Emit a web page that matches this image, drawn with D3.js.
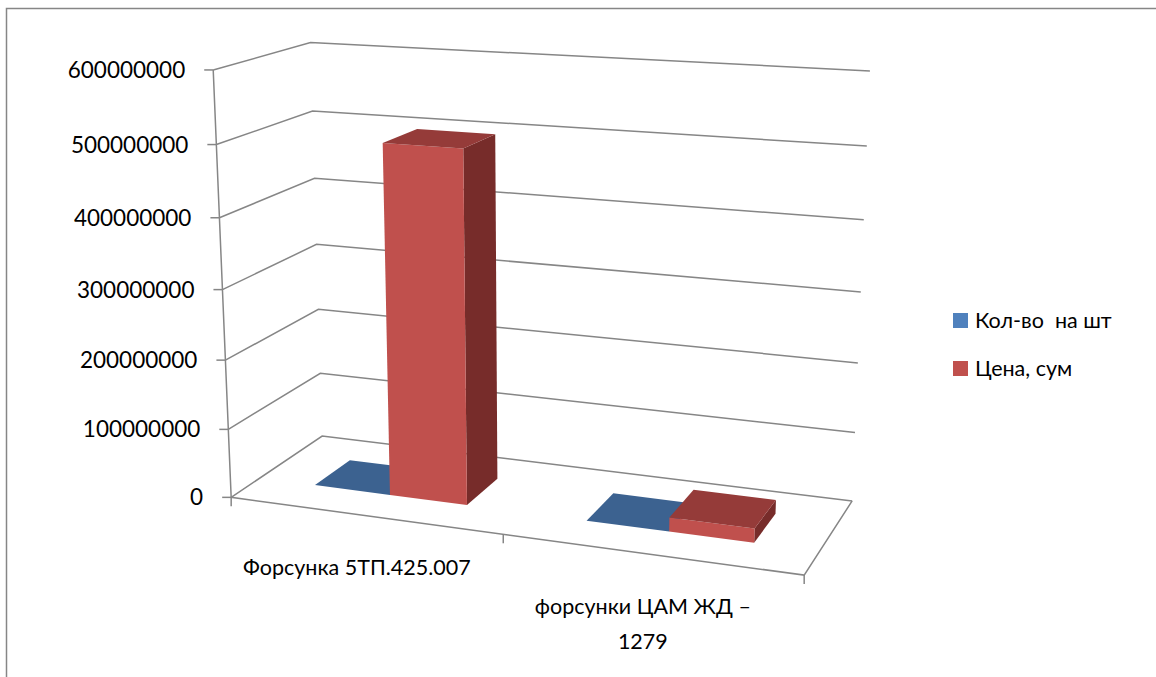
<!DOCTYPE html>
<html>
<head>
<meta charset="utf-8">
<script src="https://cdn.jsdelivr.net/npm/d3@7"></script>
<style>
  html, body { margin: 0; padding: 0; background: #fff; }
  svg { display: block; }
  text { font-family: Lato, "Open Sans", "Noto Sans", sans-serif; fill: #000; white-space: pre; }
</style>
</head>
<body>
<svg id="chart" width="1156" height="677"></svg>
<script>
// Chart values
const categories = ["Форсунка 5ТП.425.007", "форсунки ЦАМ ЖД –\n1279"];
const seriesNames = ["Кол-во  на шт", "Цена, сум"];
const quantityValues = [100, 50];
const priceValues = [500000000, 20000000];
const seriesValues = [quantityValues, priceValues];
const seriesColors = ["#4f81bd", "#c0504d"];
const topColors = ["#3c6290", "#953b39"];
const sideColors = ["#2f4d71", "#772c2a"];
const valueTicks = [0, 100000000, 200000000, 300000000, 400000000, 500000000, 600000000];

// Camera calibration: box coordinates [along, depth, height] and where they sit on the page
const cameraAnchors = [
  [[0, 0, 0], [231, 498]], [[1, 0, 0], [804, 575]], [[1, 1, 0], [852, 501]], [[0, 1, 0], [322, 436]],
  [[0, 0, 1], [213, 70]], [[0, 1, 1], [310, 43]], [[1, 1, 1], [870, 71]],
  [[0, 0, 0.5], [223, 289]], [[0, 1, 0.5], [317, 244]], [[1, 1, 0.5], [861, 292]]
];

// Least-squares fit of a 3x4 projective camera
function fitCamera(anchors) {
  const n = 11, A = d3.range(n).map(() => new Array(n + 1).fill(0));
  const addRow = (r, b) => {
    for (let i = 0; i < n; i++) {
      for (let j = 0; j < n; j++) A[i][j] += r[i] * r[j];
      A[i][n] += r[i] * b;
    }
  };
  anchors.forEach(([[x, y, z], [sx, sy]]) => {
    const u = sx / 1000, v = sy / 1000;
    addRow([x, y, z, 1, 0, 0, 0, 0, -u * x, -u * y, -u * z], u);
    addRow([0, 0, 0, 0, x, y, z, 1, -v * x, -v * y, -v * z], v);
  });
  for (let c = 0; c < n; c++) {
    let p = c;
    for (let r = c + 1; r < n; r++) if (Math.abs(A[r][c]) > Math.abs(A[p][c])) p = r;
    [A[c], A[p]] = [A[p], A[c]];
    for (let r = 0; r < n; r++) {
      if (r === c) continue;
      const f = A[r][c] / A[c][c];
      for (let k = c; k <= n; k++) A[r][k] -= f * A[c][k];
    }
  }
  return d3.range(n).map(i => A[i][n] / A[i][i]);
}

const m = fitCamera(cameraAnchors);
function project(x, y, z) {
  const w = m[8] * x + m[9] * y + m[10] * z + 1;
  return [
    1000 * (m[0] * x + m[1] * y + m[2] * z + m[3]) / w,
    1000 * (m[4] * x + m[5] * y + m[6] * z + m[7]) / w
  ];
}

// Scales inside the box
const heightScale = d3.scaleLinear().domain([0, 600000000]).range([0, 1]);
const categoryScale = d3.scaleBand().domain(d3.range(categories.length)).range([0, 1]);
const seriesScale = d3.scaleBand().domain(d3.range(seriesNames.length))
  .range([0, categoryScale.bandwidth()]).paddingInner(0).paddingOuter(0.75);
const depthScale = d3.scaleLinear().domain([0, 1]).range([0.3, 0.7]);

const svg = d3.select("#chart");
const gridColor = "#868686";
const line = d3.line();

// Outer chart frame
svg.append("path")
  .attr("d", "M6.5,677V8.5H1156")
  .attr("fill", "none").attr("stroke", gridColor).attr("stroke-width", 1.5);

// Floor and back-wall grid lines, one per tick
const grid = svg.append("g").attr("fill", "none").attr("stroke", gridColor).attr("stroke-width", 1.5);
valueTicks.forEach(t => {
  const z = heightScale(t);
  grid.append("path").attr("d", line([project(0, 0, z), project(0, 1, z), project(1, 1, z)]));
  const p = project(0, 0, z);
  grid.append("path").attr("d", line([[p[0] - 9, p[1]], p]));
});
grid.append("path").attr("d", line([project(0, 0, 1), project(0, 0, 0), project(1, 0, 0), project(1, 1, 0)]));
categoryScale.domain().concat([categories.length]).forEach(i => {
  const p = project(i / categories.length, 0, 0);
  grid.append("path").attr("d", line([p, [p[0], p[1] + 9]]));
});

// Value axis labels
svg.append("g").selectAll("text").data(valueTicks).join("text")
  .attr("x", d => project(0, 0, heightScale(d))[0] - 28)
  .attr("y", d => project(0, 0, heightScale(d))[1] + 8)
  .attr("text-anchor", "end").attr("font-size", 22.5)
  .text(d => d3.format("d")(d));

// Bars, drawn back-to-front: blue then red inside each category
const bars = svg.append("g");
categories.forEach((c, ci) => {
  seriesNames.forEach((s, si) => {
    const x0 = categoryScale(ci) + seriesScale(si), x1 = x0 + seriesScale.bandwidth();
    const y0 = depthScale(0), y1 = depthScale(1), z = heightScale(seriesValues[si][ci]);
    const face = (pts, fill) => bars.append("path")
      .attr("d", line(pts.map(q => project(...q))) + "Z").attr("fill", fill);
    face([[x1, y0, 0], [x1, y1, 0], [x1, y1, z], [x1, y0, z]], sideColors[si]);
    face([[x0, y0, 0], [x1, y0, 0], [x1, y0, z], [x0, y0, z]], seriesColors[si]);
    face([[x0, y0, z], [x1, y0, z], [x1, y1, z], [x0, y1, z]], topColors[si]);
  });
});

// Category labels
const catLabels = svg.append("g").selectAll("text").data(categories).join("text")
  .attr("text-anchor", "middle").attr("font-size", 21.5)
  .attr("transform", (d, i) => {
    const p = project(categoryScale(i) + categoryScale.bandwidth() / 2, 0, 0);
    return `translate(${p[0] - 7},${p[1] + 60})`;
  });
catLabels.selectAll("tspan").data(d => d.split("\n")).join("tspan")
  .attr("x", 0).attr("dy", (d, i) => i ? 35 : 0).text(d => d);

// Legend
const legend = svg.append("g").selectAll("g").data(seriesNames).join("g")
  .attr("transform", (d, i) => `translate(953,${313 + i * 48})`);
legend.append("rect").attr("width", 15).attr("height", 15).attr("fill", (d, i) => seriesColors[i]);
legend.append("text").attr("x", 22).attr("y", 15).attr("font-size", 21.5).text(d => d);
</script>
</body>
</html>
